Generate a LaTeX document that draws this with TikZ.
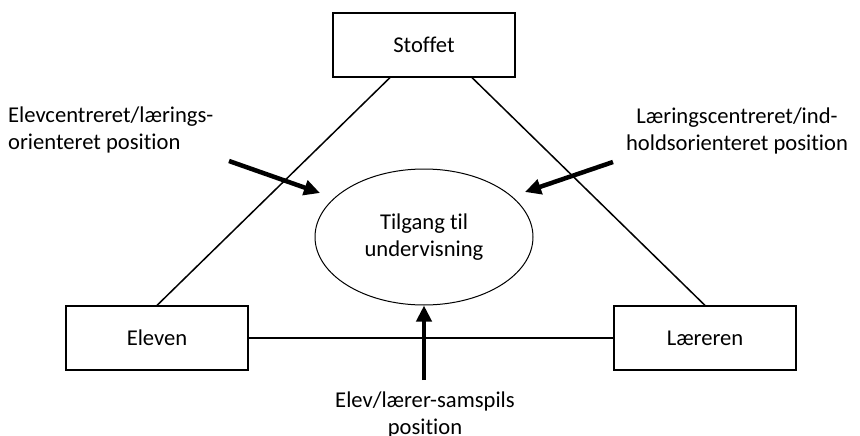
\documentclass[tikz,border=0pt]{standalone}
\usepackage{fontspec}
\setmainfont{Carlito}[Ligatures=NoCommon]
\usetikzlibrary{positioning,arrows.meta,shapes.geometric}
\tikzset{
  box/.style={draw,line width=1.2pt,minimum width=182pt,minimum height=64pt,inner sep=0pt},
  edge/.style={line width=1.5pt},
  push/.style={line width=4.5pt,-{Triangle[length=16pt,width=15pt]}},
}
\begin{document}
\begin{tikzpicture}[x=1pt,y=-1pt,font=\fontsize{22.6}{27}\selectfont]
\useasboundingbox (0,0) rectangle (860,436);
% corners of the triangle
\node[box] (stoffet) at (424,45) {Stoffet};
\node[box] (eleven) at (157,338) {Eleven};
\node[box] (laereren) at (705,338) {Læreren};
\node[draw,ellipse,line width=1pt,minimum width=218pt,minimum height=136pt,inner sep=0pt,align=center] (tilgang) at (424,237) {Tilgang til\\undervisning};
% sides
\draw[edge] ([xshift=-34pt]stoffet.south) -- (eleven.north);
\draw[edge] ([xshift=48pt]stoffet.south) -- (laereren.north);
\draw[edge] (eleven) -- (laereren);
% positions
\node[anchor=west,align=left,inner sep=0pt] (elevpos) at (8,130) {Elevcentreret/lærings-\\orienteret position};
\node[align=center,inner sep=0pt] (laerpos) at (737,131) {Læringscentreret/ind-\\holdsorienteret position};
\node[align=center,inner sep=0pt] (sampos) at (425,415) {Elev/lærer-samspils\\position};
\coordinate (lefttail) at (229,161);
\coordinate (lefthead) at (320,193);
\coordinate (righttail) at (613,162);
\coordinate (righthead) at (525,192);
\coordinate (bottail) at (424,380);
\draw[push] (lefttail) -- (lefthead);
\draw[push] (righttail) -- (righthead);
\draw[push] (bottail) -- (tilgang.south);
\end{tikzpicture}
\end{document}
